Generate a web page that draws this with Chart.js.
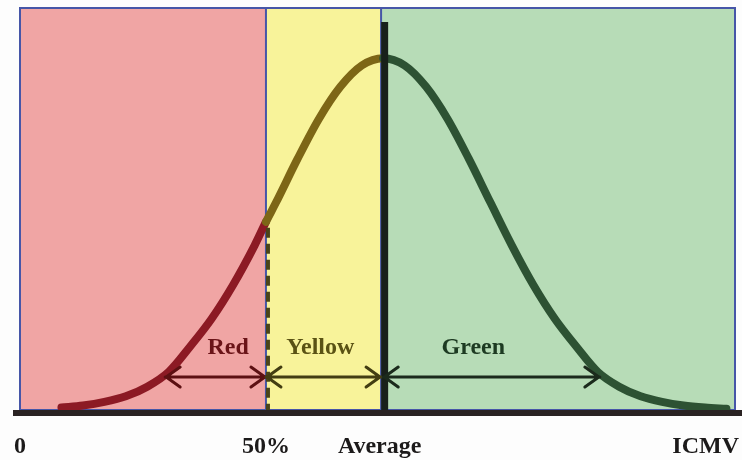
<!DOCTYPE html>
<html>
<head>
<meta charset="utf-8">
<script src="https://cdn.jsdelivr.net/npm/chart.js@4.4.1/dist/chart.umd.min.js"></script>
<style>
  body { margin: 0; background: #fdfdfd; }
  canvas { display: block; }
</style>
</head>
<body>
<canvas id="chart" width="742" height="460"></canvas>
<script>
// zones (x in units of the scale, 0..100)
var zoneNames = ["Red", "Yellow", "Green"];
var zoneStart = [0, 34.4, 50.5];
var zoneEnd = [34.4, 50.5, 100];
var zoneFill = ["#f0a5a4", "#f8f39a", "#b7dcb7"];

// bell curve
var curveX = [5.8, 8.8, 11.8, 14.8, 17.8, 20.8, 23.8, 26.8, 29.8, 32.8, 34.4, 35.8, 38.8, 41.8, 44.8, 47.8, 50.8, 53.8, 56.8, 59.8, 62.8, 65.8, 68.8, 71.8, 74.8, 77.8, 80.8, 83.8, 86.8, 89.8, 92.8, 95.8, 98.8];
var curveY = [0.6, 1.1, 2.0, 3.4, 5.8, 9.5, 15.8, 22.7, 31.1, 40.9, 46.8, 51.6, 62.4, 72.4, 80.4, 85.7, 87.5, 85.7, 80.4, 72.4, 62.4, 51.6, 40.9, 31.1, 22.7, 15.8, 9.5, 5.8, 3.4, 2.0, 1.1, 0.6, 0.3];
var curveColors = ["#8c1a24", "#7d6616", "#2d5233"];

// arrows under each zone label
var arrowFrom = [20.3, 34.4, 50.8];
var arrowTo = [34.4, 50.5, 81.1];
var arrowLevel = 8.2;
var arrowColors = ["#5c1012", "#433d12", "#1b2a1c"];
var labelX = [29.1, 42.0, 63.4];
var labelLevel = 15.4;
var labelColors = ["#6a1418", "#5a5214", "#1d3a22"];

// axis
var tickValues = [0, 34.4, 50.3, 95.9];
var tickLabels = ["0", "50%", "Average", "ICMV"];
var averageX = 51.0;
var averageTop = 96.5;

var serif = "'Liberation Serif', 'Times New Roman', serif";

var points = [];
for (var i = 0; i < curveX.length; i++) {
    points.push({ x: curveX[i], y: curveY[i] });
}

function zoneIndex(x) {
    for (var i = 0; i < zoneStart.length; i++) {
        if (x < zoneEnd[i] - 0.01) return i;
    }
    return zoneStart.length - 1;
}

var zonesPlugin = {
    id: 'zones',
    beforeDatasetsDraw: function(chart) {
        var ctx = chart.ctx;
        var xs = chart.scales.x;
        var area = chart.chartArea;
        ctx.save();
        for (var i = 0; i < zoneStart.length; i++) {
            var l = xs.getPixelForValue(zoneStart[i]);
            var r = xs.getPixelForValue(zoneEnd[i]);
            ctx.fillStyle = zoneFill[i];
            ctx.fillRect(l, area.top, r - l, area.bottom - area.top);
        }
        ctx.strokeStyle = "#4656a8";
        ctx.lineWidth = 2;
        ctx.strokeRect(area.left, area.top, area.right - area.left, area.bottom - area.top);
        for (var j = 1; j < zoneStart.length; j++) {
            var px = xs.getPixelForValue(zoneStart[j]);
            ctx.beginPath();
            ctx.moveTo(px, area.top);
            ctx.lineTo(px, area.bottom);
            ctx.stroke();
        }
        ctx.restore();
    },
    afterDatasetsDraw: function(chart) {
        var ctx = chart.ctx;
        var xs = chart.scales.x;
        var ys = chart.scales.y;
        var area = chart.chartArea;
        ctx.save();

        // dashed line at the 50% boundary, below the curve
        var bx = xs.getPixelForValue(zoneStart[1]) + 2;
        ctx.strokeStyle = "#4a4418";
        ctx.lineWidth = 4;
        ctx.setLineDash([10, 6]);
        ctx.beginPath();
        ctx.moveTo(bx, ys.getPixelForValue(curveY[10]) + 6);
        ctx.lineTo(bx, area.bottom);
        ctx.stroke();
        ctx.setLineDash([]);

        // average line
        var ax = xs.getPixelForValue(averageX);
        ctx.strokeStyle = "#18201a";
        ctx.lineWidth = 7;
        ctx.beginPath();
        ctx.moveTo(ax, ys.getPixelForValue(averageTop));
        ctx.lineTo(ax, area.bottom);
        ctx.stroke();

        // base line
        ctx.strokeStyle = "#2a2323";
        ctx.lineWidth = 6;
        ctx.beginPath();
        ctx.moveTo(area.left - 7, area.bottom + 3);
        ctx.lineTo(chart.width, area.bottom + 3);
        ctx.stroke();

        // arrows
        var ay = ys.getPixelForValue(arrowLevel);
        for (var i = 0; i < arrowFrom.length; i++) {
            var x1 = xs.getPixelForValue(arrowFrom[i]);
            var x2 = xs.getPixelForValue(arrowTo[i]);
            ctx.strokeStyle = arrowColors[i];
            ctx.lineWidth = 3;
            ctx.lineCap = "round";
            ctx.beginPath();
            ctx.moveTo(x1, ay);
            ctx.lineTo(x2, ay);
            ctx.moveTo(x1 + 15, ay - 10);
            ctx.lineTo(x1 + 1, ay);
            ctx.lineTo(x1 + 15, ay + 10);
            ctx.moveTo(x2 - 15, ay - 10);
            ctx.lineTo(x2 - 1, ay);
            ctx.lineTo(x2 - 15, ay + 10);
            ctx.stroke();
        }

        // zone labels
        ctx.font = "bold 24px " + serif;
        ctx.textAlign = "center";
        ctx.textBaseline = "middle";
        var ly = ys.getPixelForValue(labelLevel);
        for (var k = 0; k < zoneNames.length; k++) {
            ctx.fillStyle = labelColors[k];
            ctx.fillText(zoneNames[k], xs.getPixelForValue(labelX[k]), ly);
        }
        ctx.restore();
    }
};

var chart = new Chart(document.getElementById("chart").getContext("2d"), {
    type: 'line',
    data: {
        datasets: [{
            data: points,
            borderWidth: 8,
            borderColor: curveColors[0],
            cubicInterpolationMode: 'monotone',
            pointRadius: 0,
            borderCapStyle: 'round',
            segment: {
                borderColor: function(c) {
                    return curveColors[zoneIndex(c.p0.parsed.x)];
                }
            }
        }]
    },
    options: {
        responsive: false,
        animation: false,
        layout: { padding: { left: 20, right: 7, top: 8, bottom: 0 } },
        plugins: { legend: { display: false }, tooltip: { enabled: false } },
        scales: {
            x: {
                type: 'linear',
                min: 0,
                max: 100,
                grid: { display: false, drawTicks: false },
                border: { display: false },
                afterBuildTicks: function(axis) {
                    axis.ticks = tickValues.map(function(v) { return { value: v }; });
                },
                afterFit: function(axis) {
                    axis.height = 50;
                    axis.paddingLeft = 0;
                    axis.paddingRight = 0;
                },
                ticks: {
                    autoSkip: false,
                    minRotation: 0,
                    maxRotation: 0,
                    padding: 22,
                    color: "#1c1a1a",
                    font: { family: serif, size: 24, weight: 'bold' },
                    callback: function(value, index) {
                        return tickLabels[index];
                    }
                }
            },
            y: { display: false, min: 0, max: 100 }
        }
    },
    plugins: [zonesPlugin]
});
</script>
</body>
</html>
